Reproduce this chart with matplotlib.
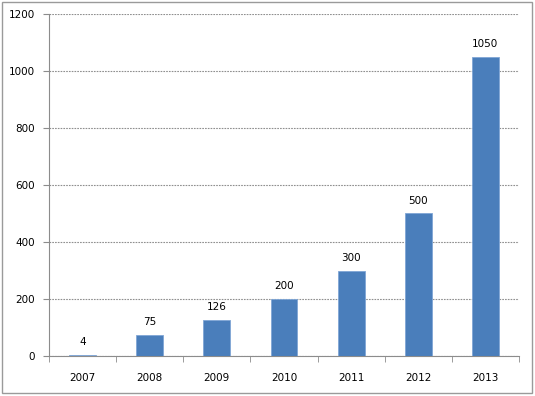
import matplotlib.pyplot as plt
from matplotlib.patches import Rectangle
import numpy as np

years = ["2007", "2008", "2009", "2010", "2011", "2012", "2013"]
values = [4, 75, 126, 200, 300, 500, 1050]
y_ticks = [0, 200, 400, 600, 800, 1000, 1200]

fig = plt.figure(figsize=(5.35, 3.96), dpi=100)
ax = fig.add_axes([49 / 535, 1 - 356 / 396, 470 / 535, 342 / 396])

# outer chart border
fig.patches.append(Rectangle((2 / 535, 3 / 396), 530 / 535, 391 / 396,
                             transform=fig.transFigure, fill=False,
                             edgecolor="#9a9a9a", linewidth=1.0))

x = np.arange(len(years))
ax.bar(x, values, width=0.4, color="#4a7ebb", edgecolor="#7fa6d6",
       linewidth=0.6, zorder=3)

for xi, v in zip(x, values):
    ax.text(xi, v + 27, str(v), ha="center", va="bottom", fontsize=7.5,
            color="black")

ax.set_xlim(-0.5, len(years) - 0.5)
ax.set_ylim(0, 1200)
ax.set_yticks(y_ticks)
ax.set_yticklabels([str(t) for t in y_ticks], fontsize=7.5)
ax.set_xticks(x)
ax.set_xticklabels(years, fontsize=7.5)
ax.tick_params(axis="x", length=0, pad=12)
ax.tick_params(axis="y", length=4, color="#8c8c8c", pad=6)
ax.set_xticks(np.arange(-0.5, len(years)), minor=True)
ax.tick_params(axis="x", which="minor", length=4, color="#8c8c8c")

ax.yaxis.grid(True, color="#8f8f8f", linestyle=(0, (1.5, 1)), linewidth=0.8,
              zorder=0)
ax.set_axisbelow(True)

for side in ["top", "right"]:
    ax.spines[side].set_visible(False)
ax.spines["left"].set_color("#8c8c8c")
ax.spines["bottom"].set_color("#8c8c8c")

fig.savefig("out.png", dpi=100)
